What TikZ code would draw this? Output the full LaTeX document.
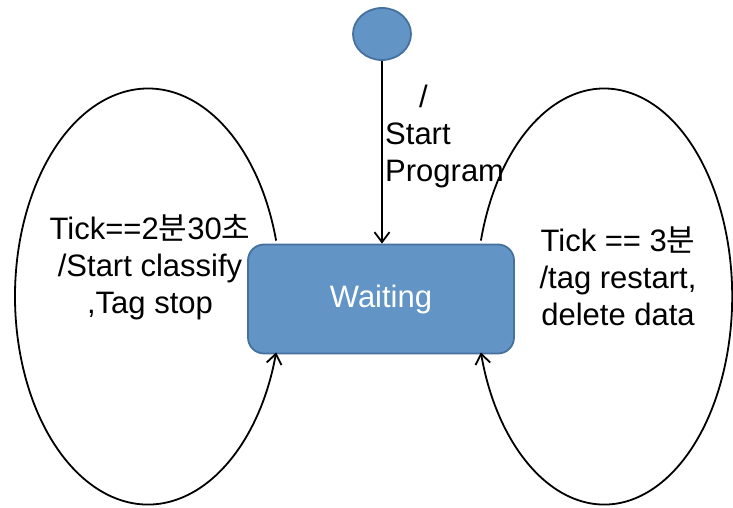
\documentclass[tikz,border=0pt]{standalone}
\usepackage{fontspec}
\setmainfont{Liberation Sans}
\newfontfamily\kr{Noto Sans CJK KR}
\usetikzlibrary{shapes.geometric,arrows.meta}
\definecolor{stateblue}{RGB}{98,148,198}
\definecolor{stateedge}{RGB}{70,112,158}
\tikzset{
  trans/.style={line width=1.8pt,-{Straight Barb[length=10pt,width=15pt]}},
  statebox/.style={fill=stateblue,draw=stateedge,line width=1.8pt},
}
\begin{document}
\begin{tikzpicture}[x=1pt,y=1pt,font=\fontsize{31}{37}\selectfont]
\useasboundingbox(0,0)rectangle(733,508);
\node[statebox,ellipse,minimum width=58pt,minimum height=52pt,inner sep=0](init)at(382,474){};
\node[statebox,rounded corners=16pt,minimum width=266pt,minimum height=109pt,text=white](wait)at(381,209){Waiting};
\draw[trans](init.south)--(init.south|-wait.north);
\node[align=left,anchor=west,inner sep=0](start)at(385,372){\hspace*{34pt}/\\Start\\Program};
% self loops
\draw[trans]([xshift=29pt,yshift=3pt]wait.north west)arc[start angle=15.6,end angle=344.4,x radius=133pt,y radius=208pt];
\draw[trans]([xshift=-34pt,yshift=3pt]wait.north east)arc[start angle=164.4,end angle=-164.4,x radius=128pt,y radius=208pt];
\node[align=center,inner sep=0](tleft)at(150,241){Tick==2{\kr 분}30{\kr 초}\\/Start classify\\,Tag stop};
\node[align=center,inner sep=0](tright)at(618,232){Tick == 3{\kr 분}\\/tag restart,\\delete data};
\end{tikzpicture}
\end{document}
